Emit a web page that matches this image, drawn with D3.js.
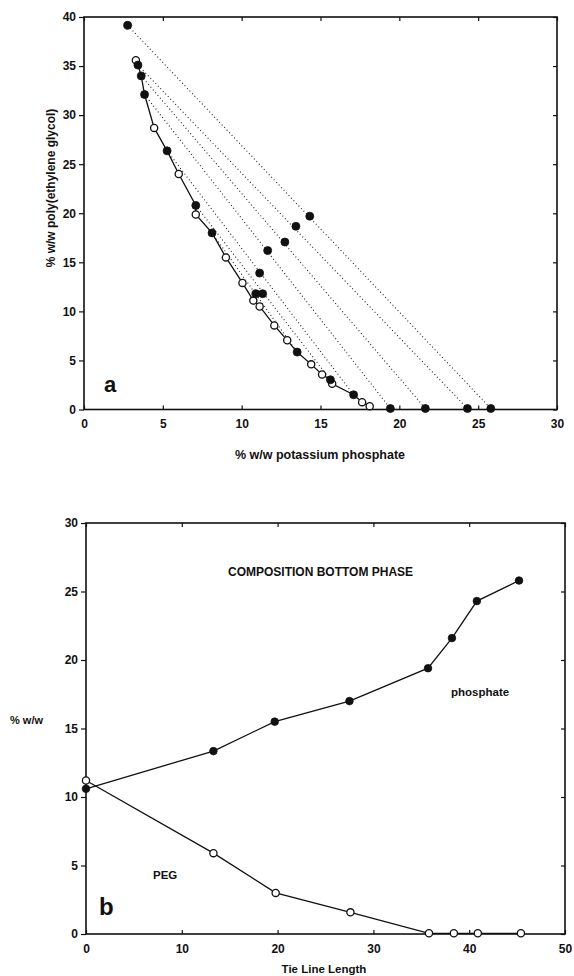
<!DOCTYPE html>
<html>
<head>
<meta charset="utf-8">
<script src="https://cdn.jsdelivr.net/npm/d3@7"></script>
<style>
body { margin: 0; background: #fff; }
svg text { font-family: "Liberation Sans", Arial, sans-serif; font-weight: bold; fill: #111; }
</style>
</head>
<body>
<script>
/* global d3 */

// Data - panel a (phase diagram)
const binodalOpenX = [3.29, 4.45, 6.01, 7.09, 9.0, 10.05, 10.74, 11.14, 12.07, 12.89, 14.41, 15.1, 15.74, 17.64, 18.12];
const binodalOpenY = [35.6, 28.7, 24.0, 19.87, 15.5, 12.9, 11.1, 10.5, 8.57, 7.05, 4.6, 3.57, 2.62, 0.75, 0.34];
const topPhaseX = [2.77, 3.42, 3.63, 3.84, 5.27, 7.09, 8.12];
const topPhaseY = [39.15, 35.1, 34.0, 32.1, 26.36, 20.8, 18.0];
const bottomPhaseX = [25.8, 24.32, 21.65, 19.43, 17.1, 15.63, 13.52];
const bottomPhaseY = [0.1, 0.1, 0.1, 0.1, 1.5, 3.03, 5.85];
const feedX = [14.32, 13.44, 12.74, 11.65, 11.14, 11.33, 10.9];
const feedY = [19.7, 18.67, 17.07, 16.2, 13.9, 11.8, 11.8];
const aTicksX = [0, 5, 10, 15, 20, 25, 30];
const aTicksY = [0, 5, 10, 15, 20, 25, 30, 35, 40];

// Data - panel b (bottom phase composition vs tie line length)
const tieLength = [0, 13.3, 19.7, 27.5, 35.7, 38.2, 40.8, 45.2];
const phosphate = [10.6, 13.35, 15.5, 17.0, 19.4, 21.6, 24.3, 25.8];
const pegLength = [0, 13.3, 19.8, 27.6, 35.8, 38.4, 40.9, 45.4];
const peg = [11.2, 5.9, 3.0, 1.58, 0.05, 0.05, 0.05, 0.05];
const bTicksX = [0, 10, 20, 30, 40, 50];
const bTicksY = [0, 5, 10, 15, 20, 25, 30];

const width = 574;
const height = 976;

const svg = d3.select('body')
.append('svg')
.attr('width', width)
.attr('height', height);

// draws the boxed frame with ticks: y ticks outward left, others inward
function drawFrame(g, x, y, ticksX, ticksY) {
    const [x0, x1] = x.range();
    const [y0, y1] = y.range();

    g.append('g')
    .attr('transform', `translate(0,${ y0 })`)
    .call(d3.axisBottom(x).tickValues(ticksX).tickSize(-4).tickSizeOuter(0).tickPadding(10))
    .call(a => a.select('.domain').remove());

    g.append('g')
    .attr('transform', `translate(${ x0 },0)`)
    .call(d3.axisLeft(y).tickValues(ticksY).tickSize(5).tickSizeOuter(0).tickPadding(3))
    .call(a => a.select('.domain').remove());

    g.append('g')
    .attr('transform', `translate(0,${ y1 })`)
    .call(d3.axisTop(x).tickValues(ticksX).tickSize(-4).tickSizeOuter(0).tickFormat(''))
    .call(a => a.select('.domain').remove());

    g.append('g')
    .attr('transform', `translate(${ x1 },0)`)
    .call(d3.axisRight(y).tickValues(ticksY).tickSize(-4).tickSizeOuter(0).tickFormat(''))
    .call(a => a.select('.domain').remove());

    g.selectAll('.tick line').attr('stroke', '#111').attr('stroke-width', 1.2);
    g.selectAll('.tick text')
    .attr('font-size', '12px')
    .attr('font-family', '"Liberation Sans", Arial, sans-serif')
    .attr('font-weight', 'bold')
    .attr('fill', '#111');

    g.append('rect')
    .attr('x', x0)
    .attr('y', y1)
    .attr('width', x1 - x0)
    .attr('height', y0 - y1)
    .attr('fill', 'none')
    .attr('stroke', '#111')
    .attr('stroke-width', 1.6);
}

function dots(g, xs, ys, x, y, filled, r) {
    g.selectAll(null)
    .data(xs.map((d, i) => [d, ys[i]]))
    .enter()
    .append('circle')
    .attr('cx', d => x(d[0]))
    .attr('cy', d => y(d[1]))
    .attr('r', r)
    .attr('fill', filled ? '#111' : '#fff')
    .attr('stroke', '#111')
    .attr('stroke-width', filled ? 0.8 : 1.3);
}

// ---------- Panel a ----------
const xA = d3.scaleLinear().domain([0, 30]).range([84, 557]);
const yA = d3.scaleLinear().domain([0, 40]).range([409.5, 17]);
const gA = svg.append('g');

// tie lines
gA.selectAll(null)
.data(topPhaseX.map((d, i) => i))
.enter()
.append('line')
.attr('x1', i => xA(topPhaseX[i]))
.attr('y1', i => yA(topPhaseY[i]))
.attr('x2', i => xA(bottomPhaseX[i]))
.attr('y2', i => yA(bottomPhaseY[i]))
.attr('stroke', '#222')
.attr('stroke-width', 1.1)
.attr('stroke-dasharray', '1,2.6');

// binodal curve through all points lying on it
const binodal = binodalOpenX.map((d, i) => [d, binodalOpenY[i]])
.concat(topPhaseX.slice(1).map((d, i) => [d, topPhaseY[i + 1]]))
.concat(bottomPhaseX.slice(4).map((d, i) => [d, bottomPhaseY[i + 4]]))
.sort((a, b) => a[0] - b[0] || b[1] - a[1]);

gA.append('path')
.datum(binodal)
.attr('fill', 'none')
.attr('stroke', '#111')
.attr('stroke-width', 1.3)
.attr('d', d3.line().x(d => xA(d[0])).y(d => yA(d[1])));

drawFrame(gA, xA, yA, aTicksX, aTicksY);

dots(gA, binodalOpenX, binodalOpenY, xA, yA, false, 3.6);
dots(gA, topPhaseX, topPhaseY, xA, yA, true, 4);
dots(gA, bottomPhaseX, bottomPhaseY, xA, yA, true, 4);
dots(gA, feedX, feedY, xA, yA, true, 4);

gA.append('text')
.attr('x', 320)
.attr('y', 459)
.attr('text-anchor', 'middle')
.attr('font-size', '12.5px')
.text('% w/w potassium phosphate');

gA.append('text')
.attr('transform', 'translate(55,188) rotate(-90)')
.attr('text-anchor', 'middle')
.attr('font-size', '12px')
.text('% w/w poly(ethylene glycol)');

gA.append('text')
.attr('x', 104)
.attr('y', 392)
.attr('font-size', '22px')
.text('a');

// ---------- Panel b ----------
const xB = d3.scaleLinear().domain([0, 50]).range([86, 565]);
const yB = d3.scaleLinear().domain([0, 30]).range([934, 523]);
const gB = svg.append('g');

const lineB = d3.line().x(d => xB(d[0])).y(d => yB(d[1]));

gB.append('path')
.datum(tieLength.map((d, i) => [d, phosphate[i]]))
.attr('fill', 'none')
.attr('stroke', '#111')
.attr('stroke-width', 1.3)
.attr('d', lineB);

gB.append('path')
.datum(pegLength.map((d, i) => [d, peg[i]]))
.attr('fill', 'none')
.attr('stroke', '#111')
.attr('stroke-width', 1.3)
.attr('d', lineB);

drawFrame(gB, xB, yB, bTicksX, bTicksY);

dots(gB, pegLength, peg, xB, yB, false, 3.6);
dots(gB, tieLength, phosphate, xB, yB, true, 3.8);

gB.append('text')
.attr('x', 228)
.attr('y', 576)
.attr('font-size', '12px')
.text('COMPOSITION BOTTOM PHASE');

gB.append('text')
.attr('x', 451)
.attr('y', 696)
.attr('font-size', '11.5px')
.text('phosphate');

gB.append('text')
.attr('x', 153)
.attr('y', 879)
.attr('font-size', '11.5px')
.text('PEG');

gB.append('text')
.attr('x', 99)
.attr('y', 915)
.attr('font-size', '24px')
.text('b');

gB.append('text')
.attr('x', 10)
.attr('y', 724)
.attr('font-size', '11px')
.text('% w/w');

gB.append('text')
.attr('x', 324)
.attr('y', 973)
.attr('text-anchor', 'middle')
.attr('font-size', '11.5px')
.text('Tie Line Length');
</script>
</body>
</html>
